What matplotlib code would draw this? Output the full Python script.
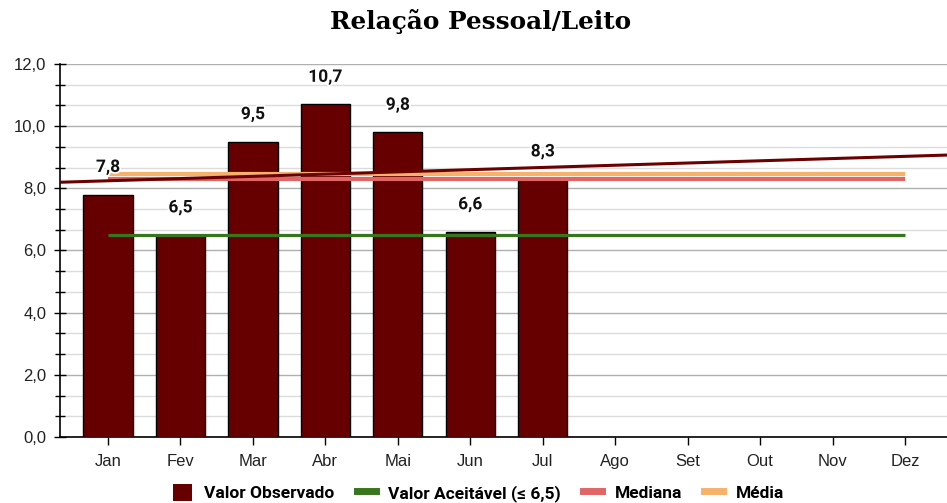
import matplotlib.pyplot as plt
import matplotlib.patheffects as pe
import numpy as np
from matplotlib.lines import Line2D
from matplotlib.patches import Patch

# dados
meses = ['Jan', 'Fev', 'Mar', 'Abr', 'Mai', 'Jun', 'Jul', 'Ago', 'Set', 'Out', 'Nov', 'Dez']
observado = [7.8, 6.5, 9.5, 10.7, 9.8, 6.6, 8.3]
aceitavel = 6.5

def br(v):
    return f'{v:.1f}'.replace('.', ',')

fig = plt.figure(figsize=(9.47, 5.03), dpi=100)
ax = fig.add_axes([0.0634, 0.1312, 1 - 0.0634, 0.8728 - 0.1312])

x_all = np.arange(len(meses))
x_obs = np.arange(len(observado))

bars = ax.bar(x_obs, observado, width=0.68, color='#660000', edgecolor='black',
              linewidth=1, zorder=3)

mediana = np.median(observado)
media = np.mean(observado)

ax.plot([x_all[0], x_all[-1]], [aceitavel, aceitavel], color='#38761d', lw=2.3,
        zorder=4, solid_capstyle='butt')
ax.plot([x_all[0], x_all[-1]], [mediana, mediana], color='#e06666', lw=3,
        zorder=4, solid_capstyle='butt')
ax.plot([x_all[0], x_all[-1]], [media, media], color='#f6b26b', lw=3,
        zorder=4, solid_capstyle='butt')

# linha de tendência
xmin, xmax = -0.6625, 11.58
coef = np.polyfit(x_obs, observado, 1)
xt = np.array([xmin, xmax])
ax.plot(xt, np.polyval(coef, xt), color='#6b0000', lw=2.2, zorder=5)

for bar, v in zip(bars, observado):
    ax.annotate(br(v), (bar.get_x() + bar.get_width() / 2, bar.get_height()),
                xytext=(0, 19.5), textcoords='offset points', ha='center', va='center',
                fontsize=12.5, fontweight='bold', family='Roboto', color='#111111',
                zorder=6, path_effects=[pe.withStroke(linewidth=2.5, foreground='white')])

ax.set_xlim(xmin, xmax)
ax.set_ylim(0, 12)
ax.set_xticks(x_all)
ax.set_xticklabels(meses, fontsize=12, family='Liberation Sans', color='#222222')
ax.set_yticks(np.arange(0, 12.1, 2))
ax.set_yticklabels([br(v) for v in np.arange(0, 12.1, 2)], fontsize=12,
                   family='Liberation Sans', color='#222222')
ax.set_yticks(np.arange(0, 12.01, 2 / 3), minor=True)
ax.tick_params(axis='y', which='major', direction='inout', length=8, width=1, pad=6)
ax.tick_params(axis='y', which='minor', direction='inout', length=7, width=1)
ax.tick_params(axis='x', which='major', direction='out', length=6, width=1, pad=6)

ax.grid(axis='y', which='major', color='#b0b0b0', lw=1, zorder=0)
ax.grid(axis='y', which='minor', color='#dcdcdc', lw=1, zorder=0)
ax.set_axisbelow(True)
for s in ['top', 'right']:
    ax.spines[s].set_visible(False)
ax.spines['left'].set_linewidth(1.2)
ax.spines['bottom'].set_linewidth(1.2)

fig.text(0.507, 1 - 22 / 503, 'Relação Pessoal/Leito', ha='center', va='center',
         fontsize=17.8, fontweight='bold', family='DejaVu Serif')

handles = [
    Patch(facecolor='#660000', edgecolor='none'),
    Line2D([], [], color='#38761d', lw=5),
    Line2D([], [], color='#e06666', lw=5),
    Line2D([], [], color='#f6b26b', lw=5),
]
labels = ['Valor Observado', 'Valor Aceitável (≤ 6,5)', 'Mediana', 'Média']
fig.legend(handles, labels, loc='center', bbox_to_anchor=(0.505, 0.02), ncol=4,
           frameon=False, prop={'family': 'Roboto', 'weight': 'bold', 'size': 12.5},
           handlelength=1.1, handleheight=1.1, columnspacing=1.3, handletextpad=0.7)

fig.savefig('out.png', dpi=100)
